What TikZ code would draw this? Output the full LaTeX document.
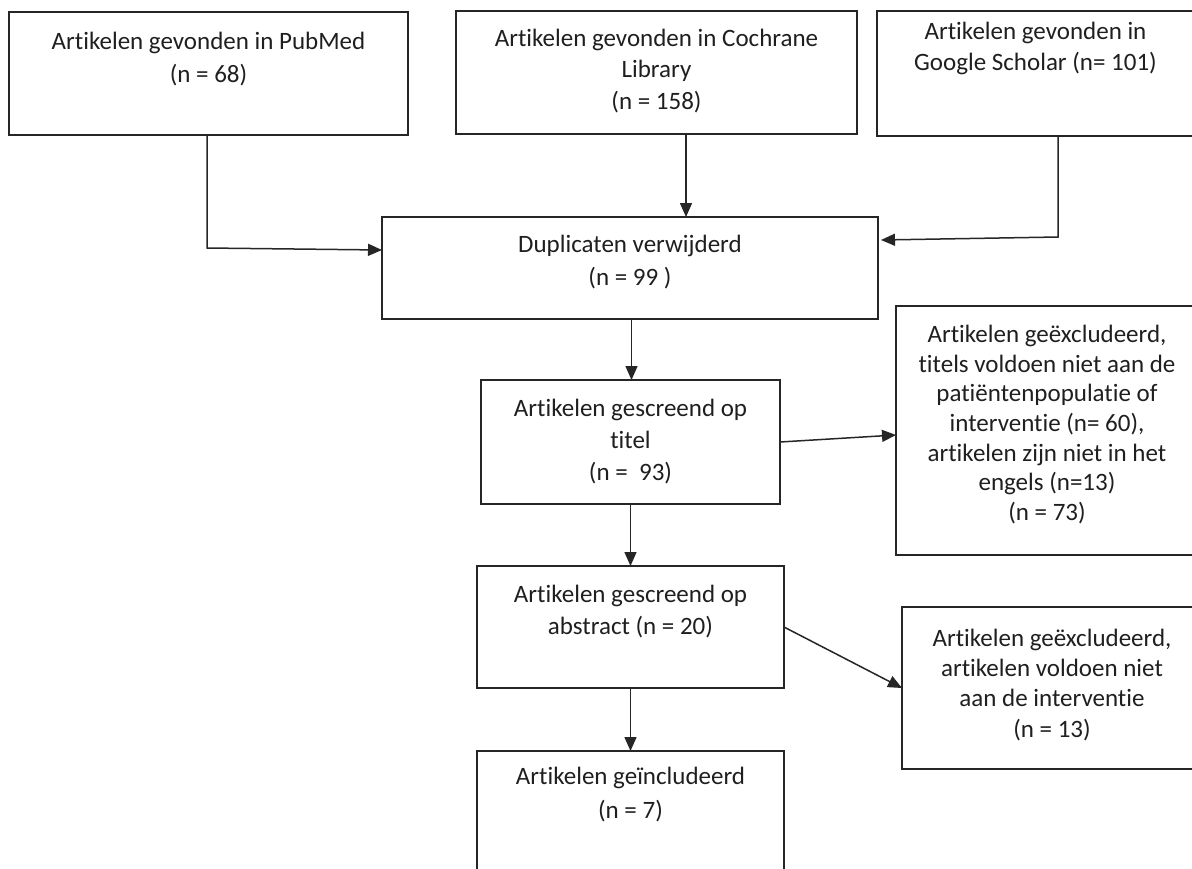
\documentclass[tikz,border=0pt]{standalone}
\usepackage{fontspec}
\setmainfont[Ligatures={NoCommon,NoRare}]{Carlito}
\XeTeXinterchartokenstate=1
\newXeTeXintercharclass\myTclass
\newXeTeXintercharclass\myIclass
\XeTeXcharclass`t=\myTclass
\XeTeXcharclass`f=\myTclass
\XeTeXcharclass`i=\myIclass
\XeTeXcharclass`t=\myTclass
\XeTeXinterchartoks\myTclass\myIclass={\kern0pt }
\usetikzlibrary{arrows.meta,calc}
\begin{document}
\begin{tikzpicture}[x=1pt,y=-1pt,
  box/.style={draw=black!85, line width=1.4pt, inner sep=0pt, outer sep=0pt},
  txt/.style={anchor=north, align=center, inner sep=0pt, outer sep=0pt, text=black!88},
  fs/.style={font=\fontsize{25}{#1}\selectfont},
  arr/.style={draw=black!85, line width=1.5pt, -{Triangle[length=14pt,width=12pt]}},
  every node/.append style={execute at begin node=\strut}]
\useasboundingbox (0,0) rectangle (1192,868);
\clip (0,0) rectangle (1192,868);

% boxes
\node[box, minimum width=399pt, minimum height=123pt] (pub) at (208.5,73.5) {};
\node[box, minimum width=401pt, minimum height=123pt] (coch) at (656.5,72.5) {};
\node[box, minimum width=317pt, minimum height=125pt] (goog) at (1035.5,73.5) {};
\node[box, minimum width=496pt, minimum height=102pt] (dup) at (630,268) {};
\node[box, minimum width=299pt, minimum height=124pt] (titel) at (630.5,442) {};
\node[box, minimum width=302pt, minimum height=249pt] (excla) at (1047,430.5) {};
\node[box, minimum width=307pt, minimum height=122pt] (abs) at (630.5,627) {};
\node[box, minimum width=300pt, minimum height=162pt] (exclb) at (1052,688) {};
\node[box, minimum width=307pt, minimum height=149pt] (incl) at (630.5,825.5) {};

% texts
\node[txt, fs=33] (pubt) at ([yshift=-19.9pt]pub.north) {Artikelen gevonden in PubMed\\(n = 68)};
\node[txt, fs=31.5] (cocht) at ([yshift=-17.95pt]coch.north) {Artikelen gevonden in Cochrane\\Library\\(n = 158)};
\node[txt, fs=31] (googt) at ([yshift=-11.3pt]goog.north) {Artikelen gevonden in\\Google Scholar (n= 101)};
\node[txt, fs=33] (dupt) at ([yshift=-17.9pt]dup.north) {Duplicaten verwijderd\\(n = 99 )};
\node[txt, fs=32] (titelt) at ([yshift=-19.6pt]titel.north) {Artikelen gescreend op\\titel\\(n = \ 93)};
\node[txt, fs=29.6] (exclat) at ([yshift=-19.3pt]excla.north) {Artikelen geëxcludeerd,\\titels voldoen niet aan de\\patiëntenpopulatie of\\interventie (n= 60),\\artikelen zijn niet in het\\engels (n=13)\\(n = 73)};
\node[txt, fs=32] (abst) at ([yshift=-19.6pt]abs.north) {Artikelen gescreend op\\abstract (n = 20)};
\node[txt, fs=30.3] (exclbt) at ([yshift=-21.8pt]exclb.north) {Artikelen geëxcludeerd,\\artikelen voldoen niet\\aan de interventie\\(n = 13)};
\node[txt, fs=34] (inclt) at ([yshift=-16.2pt]incl.north) {Artikelen geïncludeerd\\(n = 7)};

% connectors
\coordinate (pubbend) at (207,248);
\coordinate (pubout) at (pub.south -| pubbend);
\draw[arr] (pubout) -- (pubbend) -- ([yshift=18pt]dup.west);

\coordinate (cochout) at ([xshift=29.5pt]coch.south);
\draw[arr] (cochout) -- (cochout |- dup.north);

\coordinate (googout) at ([xshift=22.5pt]goog.south);
\coordinate (googbend) at (1058,237);
\draw[arr] (googout) -- (googbend) -- ([shift={(3pt,28pt)}]dup.east);

\draw[arr] ([xshift=1.5pt]dup.south) -- ([xshift=1pt]titel.north);
\draw[arr] (titel.east) -- ([yshift=-4.5pt]excla.west);
\draw[arr] (titel.south) -- (abs.north);
\draw[arr] (abs.east) -- (exclb.west);
\draw[arr] (abs.south) -- (incl.north);
\end{tikzpicture}
\end{document}
